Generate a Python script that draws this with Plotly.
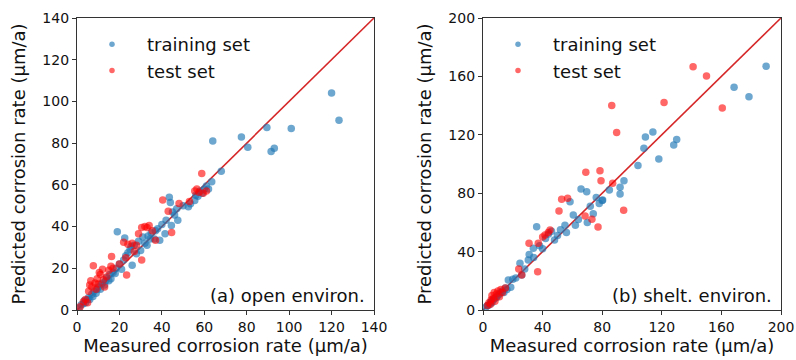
import plotly.graph_objects as go

# ---------------- data ----------------
# Panel (a): open environment
a_train_meas = [1, 2, 3, 3.5, 4, 5, 5.5, 6, 7, 7.5, 8, 9, 9.5, 10, 11, 11.5, 12, 13, 13.5, 14,
                15, 15.5, 16, 17, 18, 18.5, 19, 20, 21, 22, 22.5, 23, 24, 25, 25.5, 26, 27, 28,
                29, 30, 31, 32, 33, 33.5, 34.5, 35, 36.5, 37, 38, 39, 40, 41.5, 42, 43.5, 44,
                44.5, 45, 46, 47.5, 47, 50, 52.5, 53.5, 55.5, 56, 57, 58, 59, 60, 61, 62, 63.5,
                64, 68, 77.5, 80.5, 89.5, 91.5, 93, 101, 120, 123.5]
a_train_pred = [1, 2.5, 3, 4.5, 3.5, 5, 6, 5, 7.5, 6.5, 9, 8, 10, 11, 10, 12.5, 13, 12, 14, 15.5,
                14, 17, 15, 18, 17.5, 20, 37.5, 22, 19.5, 24, 34.5, 26, 27.5, 29, 30.5, 21.5, 31,
                27, 33, 28.5, 35, 32, 31, 35.5, 34, 37, 34, 38, 39, 33.5, 41, 36.5, 43, 54, 51.5,
                40.5, 47, 45.5, 43, 48.5, 50, 49.5, 51, 52.5, 55, 54.5, 57, 56, 58, 59.5, 58,
                61.5, 81, 66.5, 83, 78, 87.5, 76, 77.5, 87, 104, 91]
a_test_meas = [1.5, 3, 4, 5, 5.5, 6, 6.5, 7, 7.7, 8.5, 9, 9.5, 10, 10.5, 11, 12, 12.5, 13, 14,
               15, 16, 16.3, 17, 20, 22, 23, 23.4, 24, 26, 27, 28, 29, 30.5, 30.5, 32, 33, 34,
               35.5, 37, 40.4, 43, 44.6, 48.1, 53, 55.5, 56.5, 57.5, 58.8, 59.5, 61]
a_test_pred = [1.5, 4, 5, 3.5, 9, 12, 14, 11, 21.2, 13, 10, 15, 12.5, 18, 17, 19.5, 14.5, 11, 16,
               19, 21, 25.6, 20, 22, 32.5, 25, 16.8, 31.5, 32, 28, 31, 36.5, 24, 39.5, 40, 39.5,
               40.5, 38, 33.5, 52.7, 47.4, 37.2, 51.1, 52, 57, 58, 56.5, 65.5, 56, 57]

# Panel (b): sheltered environment
b_train_meas = [2, 3, 4, 5, 5.5, 6, 7, 8, 9, 10, 11, 12, 13, 14, 15, 16, 18.6, 17, 20, 22, 24.8,
                26, 28, 30.4, 31, 33.8, 34, 36, 38, 40, 42, 44, 46, 48, 50, 52, 55, 56, 58.4,
                60.6, 62, 64, 65.8, 69.6, 70, 72, 74, 76, 78, 80, 80.3, 84.8, 92, 92, 94.6,
                104, 108, 109, 114, 118, 128, 130, 168.5, 178.5, 190]
b_train_pred = [2, 3, 3.5, 5, 6, 5, 7, 8, 8.5, 10, 11, 12, 13, 12, 15, 14, 15.5, 20.5, 21, 22,
                32, 24, 28, 34.2, 38, 42.3, 36, 57, 44, 42, 49, 52, 54, 48, 51, 55, 58, 53, 74.2,
                65, 58, 62, 82.9, 81, 60, 71, 66, 77, 73, 75, 75.3, 82.2, 84, 79.5, 88.6, 99,
                110.8, 118.5, 122, 103.4, 113, 116.7, 152.5, 146, 167]
b_test_meas = [3, 4, 5, 5.5, 6, 7, 7.5, 8, 9, 10, 11, 12, 13, 15, 24, 26, 30.9, 36.7, 37.1,
               40, 41.6, 43.8, 45, 51, 52.8, 56.8, 68.5, 69, 73.1, 77.2, 78.5, 79.2, 86.4, 87,
               89.7, 94.4, 121.5, 141, 150, 160.6]
b_test_pred = [3, 5, 4, 7, 10, 8, 12, 6, 11, 13, 9, 14, 12, 15, 28, 24, 45.7, 26.2, 45.7, 50,
               51.4, 53, 54.8, 67.8, 75.8, 76.5, 64.4, 94.3, 62.1, 56.9, 95.4, 88.6, 140, 86.8,
               121.5, 68.3, 142.2, 166.6, 160.3, 138.4]

axis_max_a = 140
axis_max_b = 200
ticks_a = [0, 20, 40, 60, 80, 100, 120, 140]
ticks_b = [0, 40, 80, 120, 160, 200]

series_names = ["training set", "test set"]
panel_labels = ["(a) open environ.", "(b) shelt. environ."]
x_title = "Measured corrosion rate (µm/a)"
y_title = "Predicted corrosion rate (µm/a)"

# ---------------- styling ----------------
BLUE = "rgba(31,119,180,0.65)"
RED = "rgba(255,0,0,0.6)"
LINE_RED = "#d62728"
FONT = "DejaVu Sans"
W, H = 796, 360

fig = go.Figure()

def add_panel(xs_tr, ys_tr, xs_te, ys_te, amax, xa, ya, legend):
    fig.add_trace(go.Scatter(x=[0, amax], y=[0, amax], mode="lines",
                             line=dict(color=LINE_RED, width=1.6),
                             xaxis=xa, yaxis=ya, showlegend=False, hoverinfo="skip"))
    fig.add_trace(go.Scatter(x=xs_tr, y=ys_tr, mode="markers", name=series_names[0],
                             marker=dict(color=BLUE, size=7.5, line=dict(width=0)),
                             xaxis=xa, yaxis=ya, showlegend=False))
    fig.add_trace(go.Scatter(x=xs_te, y=ys_te, mode="markers", name=series_names[1],
                             marker=dict(color=RED, size=7.5, line=dict(width=0)),
                             xaxis=xa, yaxis=ya, showlegend=False))
    # legend entries (smaller symbols, as in the reference legend)
    for name, col in zip(series_names, [BLUE, RED]):
        fig.add_trace(go.Scatter(x=[None], y=[None], mode="markers", name=name,
                                 marker=dict(color=col, size=5.5),
                                 xaxis=xa, yaxis=ya, legend=legend, showlegend=True))

add_panel(a_train_meas, a_train_pred, a_test_meas, a_test_pred, axis_max_a, "x", "y", "legend")
add_panel(b_train_meas, b_train_pred, b_test_meas, b_test_pred, axis_max_b, "x2", "y2", "legend2")

def axis(rng, ticks, domain, anchor, title, standoff):
    return dict(range=rng, tickvals=ticks, domain=domain, anchor=anchor,
                showline=True, mirror=True, linecolor="#333", linewidth=1.2,
                ticks="outside", ticklen=4, tickwidth=1.2, tickcolor="#333",
                showgrid=False, zeroline=False, automargin=False,
                tickfont=dict(family=FONT, size=14, color="#111"),
                title=dict(text=title, font=dict(family=FONT, size=18, color="#111"),
                           standoff=standoff))

ydom = [1 - 310 / H, 1 - 18 / H]
fig.update_layout(
    width=W, height=H, margin=dict(l=0, r=0, t=0, b=0),
    plot_bgcolor="white", paper_bgcolor="white",
    xaxis=axis([0, axis_max_a], ticks_a, [77 / W, 374 / W], "y", x_title, 4),
    yaxis=axis([0, axis_max_a], ticks_a, ydom, "x", y_title, 12),
    xaxis2=axis([0, axis_max_b], ticks_b, [483 / W, 781 / W], "y2", x_title, 4),
    yaxis2=axis([0, axis_max_b], ticks_b, ydom, "x2", y_title, 12),
    legend=dict(x=77 / W, y=1 - 26 / H, xanchor="left", yanchor="top",
                font=dict(family=FONT, size=18, color="#111"),
                bgcolor="rgba(0,0,0,0)", itemwidth=60),
    legend2=dict(x=483 / W, y=1 - 26 / H, xanchor="left", yanchor="top",
                 font=dict(family=FONT, size=18, color="#111"),
                 bgcolor="rgba(0,0,0,0)", itemwidth=60),
    showlegend=True,
)

for lab, xr in zip(panel_labels, [367 / W, 774 / W]):
    fig.add_annotation(text=lab, xref="paper", yref="paper", x=xr, y=1 - 295 / H,
                       xanchor="right", yanchor="middle", showarrow=False,
                       font=dict(family=FONT, size=18, color="#111"))

fig.write_html("out.html")
